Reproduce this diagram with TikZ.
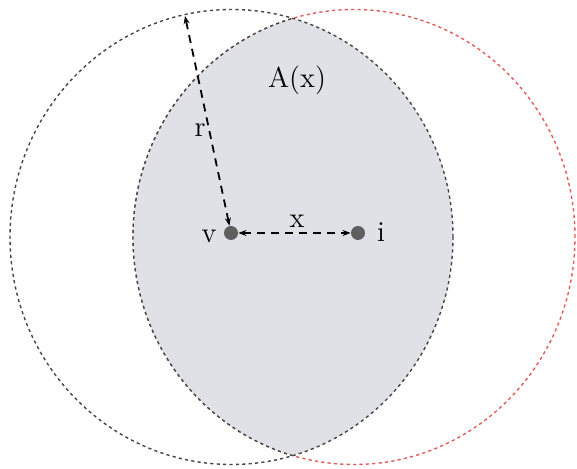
\documentclass[tikz,border=0pt]{standalone}
\usepackage{tikz}
\usetikzlibrary{arrows.meta}
\definecolor{lensgray}{RGB}{224,225,231}
\definecolor{dotgray}{RGB}{95,95,95}
\definecolor{ringred}{RGB}{228,90,90}
\definecolor{ringgray}{RGB}{70,70,70}
\begin{document}
\begin{tikzpicture}[x=0.5pt,y=0.5pt]
\useasboundingbox (0,0) rectangle (577,469);
\tikzstyle{ring}=[dash pattern=on 1.6pt off 1.6pt,line width=0.7pt]
\tikzstyle{dot}=[circle,fill=dotgray,inner sep=0pt,minimum size=7pt]
\tikzstyle{measure}=[dash pattern=on 4pt off 3pt,line width=0.9pt,{Stealth[length=4pt,width=3pt]}-{Stealth[length=4pt,width=3pt]}]
\tikzstyle{lbl}=[font=\Large,inner sep=1pt]
\draw[ring,ringred] (354,232) ellipse (221 and 227.5);
\begin{scope}
\clip (231.5,232) ellipse (221.5 and 227.5);
\fill[lensgray] (354,232) ellipse (221 and 227.5);
\draw[ring,ringgray] (354,232) ellipse (221 and 227.5);
\end{scope}
\draw[ring,ringgray] (231.5,232) ellipse (221.5 and 227.5);
\path (231,236) node[dot] (v) {};
\path (358,236) node[dot] (i) {};
\coordinate (rtop) at (185,453);
\draw[measure] (v) -- (rtop);
\draw[measure] (v) -- (i);
\path (209,233) node[lbl] (vlbl) {v};
\path (381,237) node[lbl] (ilbl) {i};
\path (297,248) node[lbl] (xlbl) {x};
\path (200,339) node[lbl] (rlbl) {r};
\path (297,389) node[lbl] (alabel) {A(x)};
\end{tikzpicture}
\end{document}
